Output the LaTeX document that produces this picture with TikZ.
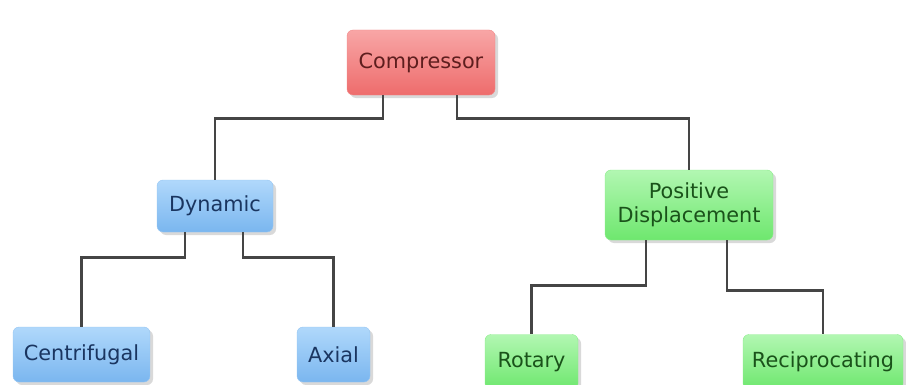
\documentclass[tikz,border=0pt]{standalone}
\usepackage{fontspec}
\setmainfont{DejaVu Sans}
\usetikzlibrary{shadows}
\definecolor{redtop}{HTML}{F8A6A6}
\definecolor{redbot}{HTML}{EE6C6C}
\definecolor{redtxt}{HTML}{5E1E1E}
\definecolor{bluetop}{HTML}{B0D8FB}
\definecolor{bluebot}{HTML}{7AB6EF}
\definecolor{bluetxt}{HTML}{1A3560}
\definecolor{greentop}{HTML}{B2F7B2}
\definecolor{greenbot}{HTML}{6EE76E}
\definecolor{greentxt}{HTML}{1A521A}
\definecolor{linkgray}{HTML}{454545}
\tikzset{
  box/.style={rounded corners=6pt, minimum height=55pt, inner sep=0pt, align=center,
    font=\fontsize{20.8}{24}\selectfont,
    drop shadow={shadow xshift=3pt, shadow yshift=-3pt, opacity=0.3}},
  redbox/.style={box, top color=redtop, bottom color=redbot, draw=redbot!80!white, text=redtxt},
  bluebox/.style={box, top color=bluetop, bottom color=bluebot, draw=bluebot!80!white, text=bluetxt},
  greenbox/.style={box, top color=greentop, bottom color=greenbot, draw=greenbot!80!white, text=greentxt},
  link/.style={draw=linkgray, line width=2.8pt}
}
\begin{document}
\begin{tikzpicture}[x=1pt, y=1pt]
\useasboundingbox (0,0) rectangle (906,384);
\node[redbox, minimum width=148pt, minimum height=65pt] (cmp) at (421,321.5) {Compressor};
\node[bluebox, minimum width=116pt, minimum height=52pt] (dyn) at (215,178) {Dynamic};
\node[greenbox, minimum width=168pt, minimum height=70pt] (pd) at (689,179) {Positive\\Displacement};
\node[bluebox, minimum width=137pt] (cen) at (81.5,29.5) {Centrifugal};
\node[bluebox, minimum width=73pt] (axi) at (333.5,29.5) {Axial};
\node[greenbox, minimum width=93pt] (rot) at (531.5,22) {Rotary};
\node[greenbox, minimum width=160pt] (rec) at (823,22) {Reciprocating};
\draw[link] ([xshift=-38pt]cmp.south) -- ++(0,-23) -| (dyn.north);
\draw[link] ([xshift=36pt]cmp.south) -- ++(0,-23) -| (pd.north);
\draw[link] ([xshift=-30pt]dyn.south) -- ++(0,-25) -| (cen.north);
\draw[link] ([xshift=28pt]dyn.south) -- ++(0,-25) -| (axi.north);
\draw[link] ([xshift=-43pt]pd.south) -- ++(0,-45) -| (rot.north);
\draw[link] ([xshift=38pt]pd.south) -- ++(0,-50) -| (rec.north);
\end{tikzpicture}
\end{document}
